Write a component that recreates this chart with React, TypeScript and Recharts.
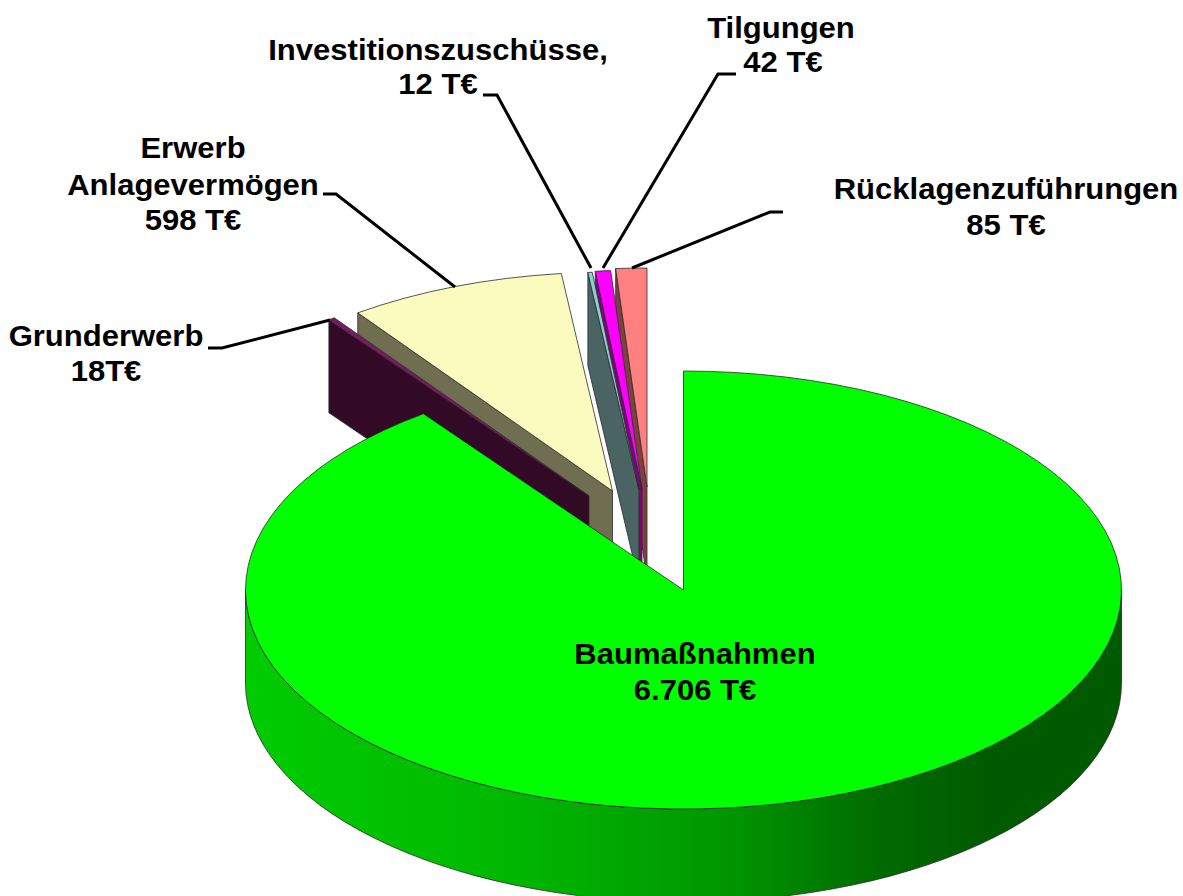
import React from 'react';
import { PieChart, Pie } from 'recharts';

const categories = ['Rücklagenzuführungen', 'Tilgungen', 'Investitionszuschüsse', 'Anlagevermögen', 'Grunderwerb', 'Baumaßnahmen'];
const values = [85, 42, 12, 598, 18, 6706];
const labelLines = [
  ['Rücklagenzuführungen', '85 T€'],
  ['Tilgungen', '42 T€'],
  ['Investitionszuschüsse,', '12 T€'],
  ['Erwerb', 'Anlagevermögen', '598 T€'],
  ['Grunderwerb', '18T€'],
  ['Baumaßnahmen', '6.706 T€'],
];

const chartData = categories.map((name, i) => ({ name, value: values[i], lines: labelLines[i] }));

const CX = 683.5;
const CY = 590;
const RADIUS = 438;
const SQUASH = 0.5;
const DEPTH = 93;
const FONT = '"Liberation Sans", Arial, sans-serif';

const topColors: Record<string, string> = {
  Rücklagenzuführungen: '#ff8080',
  Tilgungen: '#ff00ff',
  Investitionszuschüsse: '#8fd0d0',
  Anlagevermögen: '#fbfabf',
  Grunderwerb: '#7a1a66',
  Baumaßnahmen: '#00ff00',
};
const sideColors: Record<string, string> = {
  Rücklagenzuführungen: '#804040',
  Tilgungen: '#800080',
  Investitionszuschüsse: '#4a6464',
  Anlagevermögen: '#6f6e50',
  Grunderwerb: '#320a26',
  Baumaßnahmen: 'url(#greenWall)',
};
const explode: Record<string, [number, number]> = {
  Rücklagenzuführungen: [-36.5, -103],
  Tilgungen: [-41.5, -101],
  Investitionszuschüsse: [-44.5, -100],
  Anlagevermögen: [-71, -99],
  Grunderwerb: [-94.5, -94],
  Baumaßnahmen: [0, 0],
};
const labelBoxes: Record<string, { x: number; y: number[] }> = {
  Rücklagenzuführungen: { x: 1006, y: [199, 235] },
  Tilgungen: { x: 781, y: [38, 72] },
  Investitionszuschüsse: { x: 438, y: [60, 94] },
  Anlagevermögen: { x: 193, y: [158, 195, 230] },
  Grunderwerb: { x: 106, y: [346, 381] },
  Baumaßnahmen: { x: 695, y: [664, 700] },
};
const leaders: Record<string, string> = {
  Rücklagenzuführungen: '783,212 770,212 632,268',
  Tilgungen: '736,74 718,74 603,268',
  Investitionszuschüsse: '483,95 497,95 591,268',
  Anlagevermögen: '323,194 336,194 455,287',
  Grunderwerb: '208,348 222,348 330,320',
};

const rad = (a: number) => (a * Math.PI) / 180;

function SliceShape(props: any) {
  const { cx, cy, outerRadius: r, startAngle, endAngle, payload } = props;
  const name = payload?.name ?? props.name;
  const [dx, dy] = explode[name];
  const ry = r * SQUASH;
  const ax = cx + dx;
  const ay = cy + dy;
  const pt = (a: number, drop = 0): [number, number] => [ax + r * Math.cos(rad(a)), ay - ry * Math.sin(rad(a)) + drop];
  const f = (p: number[]) => `${p[0].toFixed(2)} ${p[1].toFixed(2)}`;
  const a1 = Math.min(startAngle, endAngle);
  const a2 = Math.max(startAngle, endAngle);
  const large = a2 - a1 > 180 ? 1 : 0;
  const side = sideColors[name];
  const edge = { stroke: '#2b2b2b', strokeWidth: 0.8, strokeLinejoin: 'round' as const };
  const wallLo = Math.max(a1, 180);
  const wallHi = Math.min(a2, 360);
  const edgeWall = (a: number) => {
    const o = pt(a);
    return `M${ax} ${ay} L${f(o)} L${f(pt(a, DEPTH))} L${ax} ${ay + DEPTH} Z`;
  };
  return (
    <g>
      <defs>
        <linearGradient id="greenWall" x1="0" y1="0" x2="1" y2="0">
          <stop offset="0" stopColor="#00cc00" />
          <stop offset="0.3" stopColor="#00b800" />
          <stop offset="0.55" stopColor="#009600" />
          <stop offset="0.72" stopColor="#006c00" />
          <stop offset="0.85" stopColor="#005a00" />
          <stop offset="1" stopColor="#005a00" />
        </linearGradient>
      </defs>
      {Math.cos(rad(a1)) > 0.001 && <path d={edgeWall(a1)} fill={side} {...edge} />}
      {Math.cos(rad(a2)) < -0.001 && <path d={edgeWall(a2)} fill={side} {...edge} />}
      {wallHi > wallLo && (
        <path
          d={`M${f(pt(wallLo))} A${r} ${ry} 0 0 0 ${f(pt(wallHi))} L${f(pt(wallHi, DEPTH))} A${r} ${ry} 0 0 1 ${f(pt(wallLo, DEPTH))} Z`}
          fill={side}
          {...edge}
        />
      )}
      <path d={`M${ax} ${ay} L${f(pt(a1))} A${r} ${ry} 0 ${large} 0 ${f(pt(a2))} Z`} fill={topColors[name]} {...edge} />
    </g>
  );
}

function SliceLabel(props: any) {
  const name = props.payload?.name ?? props.name;
  const lines: string[] = props.payload?.lines ?? [];
  const box = labelBoxes[name];
  return (
    <g>
      {leaders[name] && <polyline points={leaders[name]} fill="none" stroke="#000" strokeWidth={3} />}
      {lines.map((line, i) => (
        <text
          key={line}
          transform={`translate(${box.x + (i > 0 && name === 'Tilgungen' ? 2 : 0)} ${box.y[i]}) scale(1.07 1)`}
          textAnchor="middle"
          fontFamily={FONT}
          fontWeight={700}
          fontSize={29}
          fill="#000"
        >
          {line}
        </text>
      ))}
    </g>
  );
}

export default function App() {
  return (
    <div style={{ position: 'absolute', left: 0, top: 0, width: 1183, height: 896, background: '#fff', overflow: 'hidden' }}>
      <PieChart width={1183} height={896} margin={{ top: 0, right: 0, bottom: 0, left: 0 }}>
        <Pie
          data={chartData}
          dataKey="value"
          nameKey="name"
          cx={CX}
          cy={CY}
          innerRadius={0}
          outerRadius={RADIUS}
          startAngle={90}
          endAngle={450}
          paddingAngle={0}
          isAnimationActive={false}
          shape={SliceShape}
          label={SliceLabel}
          labelLine={false}
        />
      </PieChart>
    </div>
  );
}
